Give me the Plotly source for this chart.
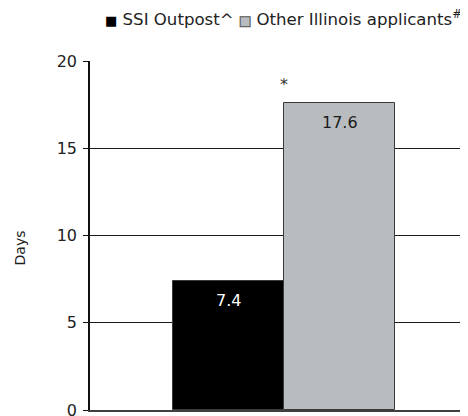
import plotly.graph_objects as go

categories = ["SSI Outpost^", "Other Illinois applicants"]
values = [7.4, 17.6]
value_labels = ["7.4", "17.6"]
bar_colors = ["#000000", "#b8bcbe"]
label_colors = ["#ffffff", "#1a1a1a"]
y_ticks = [0, 5, 10, 15, 20]
y_title = "Days"
significance_mark = "*"

FONT = "DejaVu Sans"

fig = go.Figure()
for cat, val, col in zip(categories, values, bar_colors):
    fig.add_trace(go.Bar(
        x=[cat], y=[val], name=cat, showlegend=False,
        marker=dict(color=col, line=dict(color="#3a3a3a", width=1)),
    ))

# value labels just below the top of each bar
for cat, val, lab, lc in zip(categories, values, value_labels, label_colors):
    fig.add_annotation(x=cat, y=val, text=lab, showarrow=False, yanchor="middle",
                       yshift=-20, font=dict(size=16, family=FONT, color=lc))

# significance asterisk between the bars
fig.add_annotation(x=0.5, y=18.65, text=significance_mark, showarrow=False,
                   font=dict(size=16, family=FONT, color="#333333"))

# y title
fig.add_annotation(xref="paper", yref="paper", x=-0.185, y=0.463, text=y_title,
                   textangle=-90, showarrow=False, xanchor="center", yanchor="middle",
                   font=dict(size=14, family=FONT, color="#222222"))

# legend drawn as a single line of text
legend_text = (
    "<span style='color:#000000;font-size:13px'>■</span> " + categories[0] + " "
    "<span style='color:#b8bcbe;stroke:#555555;stroke-width:1;font-size:13px'>■</span> "
    + categories[1] + "<sup>#</sup>"
)
fig.add_annotation(xref="paper", yref="paper", x=0.513, y=1.122, xanchor="center",
                   yanchor="middle", text=legend_text, showarrow=False,
                   font=dict(size=16.6, family=FONT, color="#222222"))

fig.update_layout(
    width=460, height=408,
    margin=dict(l=82, r=0, t=53, b=6, autoexpand=False),
    paper_bgcolor="white", plot_bgcolor="white",
    barmode="overlay", bargap=0,
    font=dict(family=FONT, size=15, color="#222222"),
    showlegend=False,
)
fig.update_xaxes(type="category", range=[-1.248, 2.157], showticklabels=False,
                 showgrid=False, showline=True, linecolor="#404040", linewidth=2,
                 ticks="", zeroline=False, automargin=False)
fig.update_yaxes(range=[0, 20], tickvals=y_ticks, showgrid=True, gridcolor="#1a1a1a",
                 gridwidth=1, showline=True, linecolor="#111111", linewidth=1.5,
                 ticks="outside", ticklen=5, tickcolor="#111111", zeroline=False,
                 ticklabelstandoff=3, ticklabeloverflow="allow", automargin=False,
                 tickfont=dict(size=16, family=FONT, color="#222222"))

fig.write_html("out.html")
